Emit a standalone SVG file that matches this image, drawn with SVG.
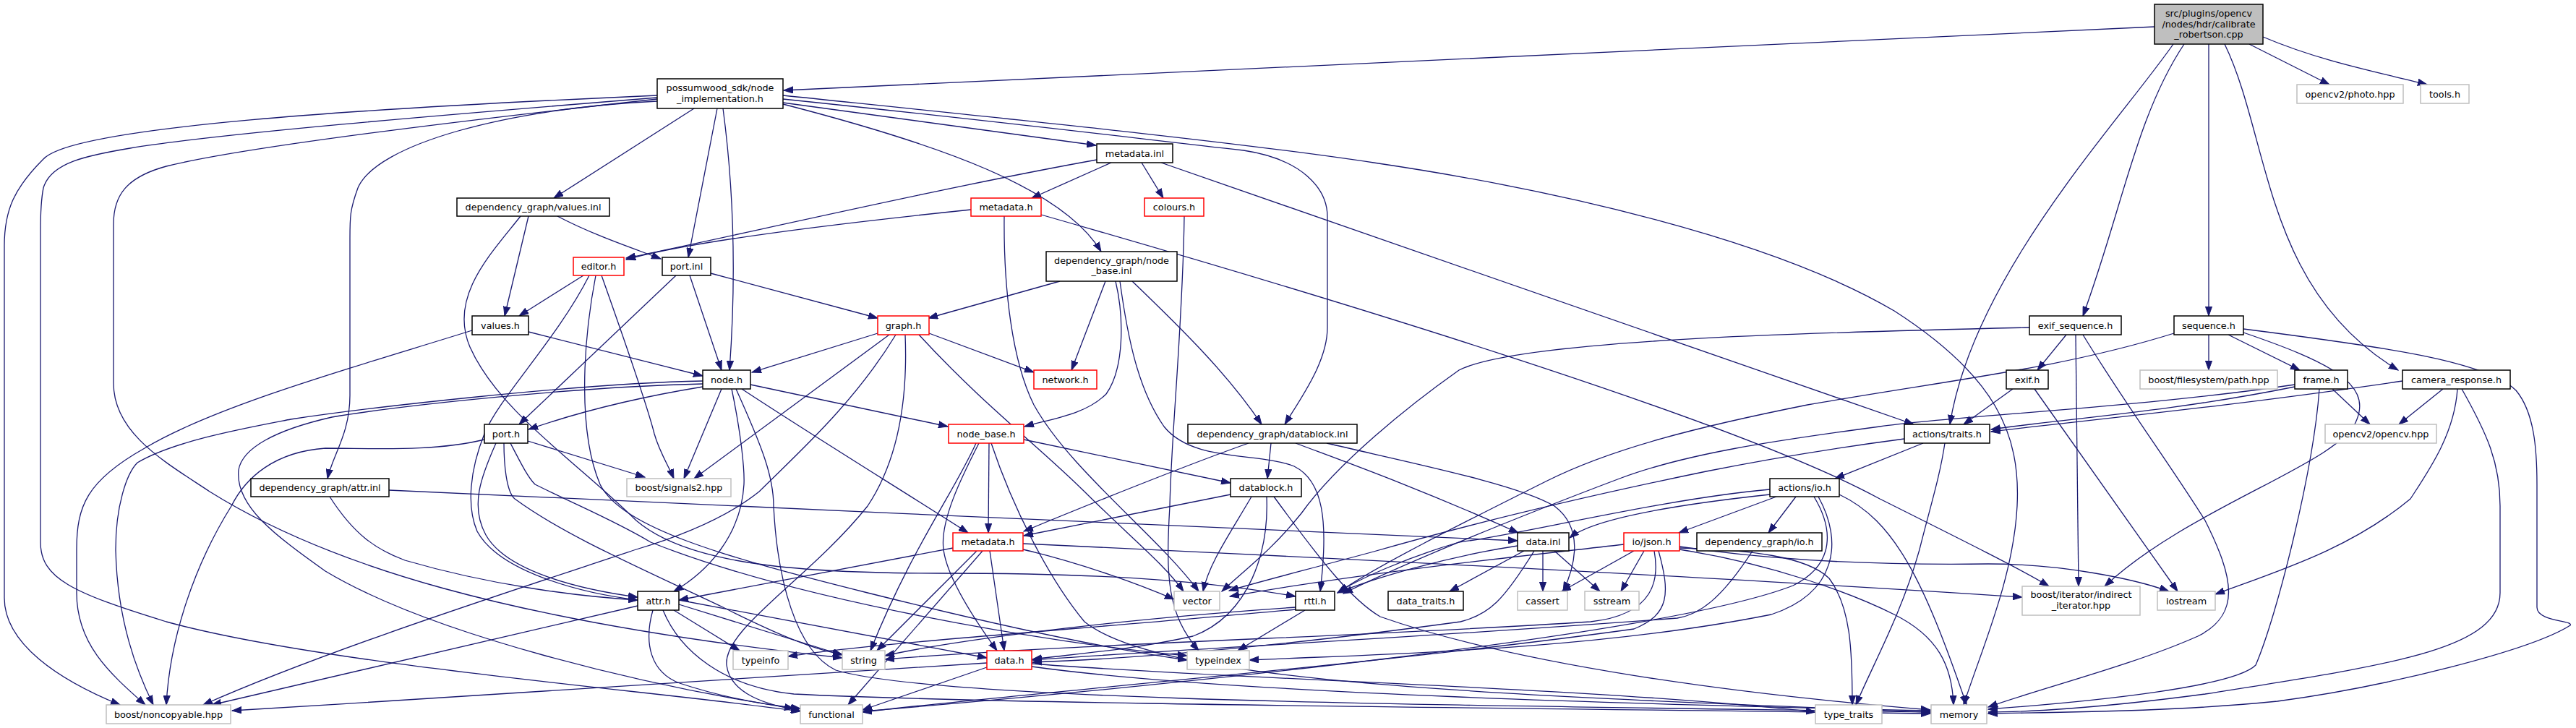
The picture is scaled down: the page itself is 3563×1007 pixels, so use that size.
<svg xmlns="http://www.w3.org/2000/svg" width="3563" height="1007" viewBox="0 0 3563 1007">
<defs>
<marker id="a" markerWidth="14" markerHeight="10" refX="13" refY="5" orient="auto" markerUnits="userSpaceOnUse"><path d="M0,0.4 L13,5 L0,9.6 Z" fill="#191970" stroke="#191970" stroke-width="1"/></marker>
<style>
.e path{fill:none;stroke:#191970;stroke-width:1.3;marker-end:url(#a)}
rect{fill:#fff;stroke-width:1.5}
.b rect{stroke:#000}
.g rect{stroke:#bfbfbf}
.r rect{stroke:#f00}
.root rect{fill:#bfbfbf;stroke:#000}
text{font-family:"DejaVu Sans",sans-serif;font-size:12.8px;text-anchor:middle;fill:#000}
</style>
</defs>
<rect x="0" y="0" width="3563" height="1007" fill="#fff" stroke="none"/>
<g id="edges" class="e">
<path d="M2980,37 L1084,125"/>
<path d="M3111,61 L3222,117"/>
<path d="M3130,51 C3210,85 3290,100 3357,117"/>
<path d="M3006,61 C2930,170 2730,380 2697,587"/>
<path d="M3021,61 C2955,160 2935,290 2881,437"/>
<path d="M3055,61 L3055,437"/>
<path d="M3077,61 C3140,190 3130,400 3317,512"/>
<path d="M909,132 C500,150 100,175 60,220 C20,260 6,290 6,340 L6,827 C6,890 80,940 166,975"/>
<path d="M909,135 C600,160 300,185 180,205 C120,215 70,225 60,260 C56,280 56,300 56,320 L56,750 C56,800 100,820 230,860 C450,920 900,955 1107,984"/>
<path d="M909,137 C700,160 350,200 230,230 C175,245 157,270 157,310 L157,530 C157,600 230,640 290,680 C450,780 700,860 1165,910"/>
<path d="M909,140 C700,150 520,200 495,260 C484,290 484,300 484,330 L484,547 C484,600 460,630 453,662"/>
<path d="M960,150 L766,274"/>
<path d="M992,150 L952,356"/>
<path d="M1000,150 C1020,300 1015,430 1009,512"/>
<path d="M1083,142 L1516,201"/>
<path d="M1083,144 C1300,200 1470,260 1523,348"/>
<path d="M1083,137 C1400,170 1560,190 1720,208 C1800,220 1836,260 1836,300 L1836,453 C1836,500 1800,550 1777,587"/>
<path d="M1083,132 C1400,165 1700,195 1900,225 C2150,262 2450,330 2620,430 C2760,520 2795,600 2790,700 C2785,800 2740,900 2716,975"/>
<path d="M1517,221 C1300,260 1000,330 866,357"/>
<path d="M1537,225 L1427,274"/>
<path d="M1579,225 L1609,274"/>
<path d="M1606,225 L2647,587"/>
<path d="M1343,290 C1150,310 950,335 866,359"/>
<path d="M1389,299 C1388,400 1400,500 1430,560 C1480,650 1600,740 1658,818"/>
<path d="M1440,297 C1800,400 2400,580 2600,690 C2720,750 2800,790 2834,811"/>
<path d="M1638,299 C1636,450 1620,600 1618,700 C1612,800 1615,850 1658,900"/>
<path d="M731,299 L698,437"/>
<path d="M771,299 C820,325 880,345 914,358"/>
<path d="M720,299 C680,350 620,410 650,480 C690,570 800,640 880,720 C950,780 1100,793 1300,793 C1500,793 1650,800 1792,825"/>
<path d="M807,381 L718,437"/>
<path d="M815,381 C770,470 690,550 670,600 C650,650 645,700 660,735 C690,790 800,820 882,830"/>
<path d="M824,381 C805,480 800,600 830,670 C860,730 1000,770 1200,820 C1400,870 1550,900 1642,913"/>
<path d="M832,381 C860,460 895,560 905,600 C912,625 925,645 932,662"/>
<path d="M935,381 L718,587"/>
<path d="M954,381 L998,512"/>
<path d="M983,378 L1214,440"/>
<path d="M1466,389 L1284,440"/>
<path d="M1529,389 L1482,512"/>
<path d="M1543,389 C1555,440 1555,510 1530,545 C1500,575 1450,580 1417,590"/>
<path d="M1549,389 C1560,470 1575,540 1610,590 C1650,640 1740,625 1790,645 C1830,665 1838,720 1826,818"/>
<path d="M1566,389 C1640,460 1700,520 1745,587"/>
<path d="M731,459 L972,520"/>
<path d="M653,457 C500,505 300,560 200,620 C120,665 106,700 106,760 L106,820 C106,890 150,930 201,975"/>
<path d="M1214,461 L1040,515"/>
<path d="M1230,463 L960,662"/>
<path d="M1239,463 C1180,560 1100,630 1050,680 C1000,720 930,745 880,760 C700,820 450,900 281,975"/>
<path d="M1252,463 C1256,560 1240,640 1200,700 C1120,800 1000,870 1005,920 C1010,960 1060,975 1107,983"/>
<path d="M1271,463 C1360,560 1440,620 1500,680 C1560,740 1610,780 1637,818"/>
<path d="M1285,461 L1430,515"/>
<path d="M2858,463 L2818,512"/>
<path d="M2807,453 C2500,460 2100,470 2018,512 C1950,560 1850,640 1800,710 C1760,760 1720,790 1690,818"/>
<path d="M2871,463 L2875,811"/>
<path d="M2881,463 C2940,560 3000,640 3050,720 C3090,800 3100,850 3040,880 C2950,920 2830,950 2750,978"/>
<path d="M3007,461 C2850,510 2700,525 2500,560 C2350,590 2230,620 2140,665 C2020,725 1900,785 1852,819"/>
<path d="M3055,463 L3055,512"/>
<path d="M3082,463 L3181,512"/>
<path d="M3103,460 C3220,500 3280,530 3260,580 C3240,640 3030,700 2911,811"/>
<path d="M3103,455 C3300,480 3440,500 3480,540 C3505,570 3509,620 3509,670 L3509,840 C3509,860 3560,858 3555,865 C3500,900 3300,950 3150,970 C3000,985 2850,985 2750,987"/>
<path d="M2784,538 L2716,587"/>
<path d="M2814,538 L3012,818"/>
<path d="M3174,535 C3000,570 2850,580 2754,594"/>
<path d="M3174,532 C2950,565 2700,575 2600,590 C2450,610 2330,628 2240,662 C2060,730 1920,790 1858,821"/>
<path d="M3323,527 C3100,560 2900,580 2754,597"/>
<path d="M3379,538 L3318,587"/>
<path d="M3399,538 C3395,600 3360,650 3334,690 C3250,760 3150,790 3064,822"/>
<path d="M3405,538 C3440,600 3458,640 3458,700 L3458,820 C3458,900 3300,920 3050,960 C2900,980 2800,985 2750,985"/>
<path d="M3226,538 L3278,587"/>
<path d="M3208,538 C3200,650 3150,850 3120,920 C3090,950 2900,970 2750,981"/>
<path d="M2660,613 L2538,662"/>
<path d="M2690,613 C2683,660 2670,700 2655,760 C2630,850 2590,920 2567,975"/>
<path d="M2634,607 C2520,622 2440,636 2360,652 C2200,685 2050,720 1900,763 C1800,790 1740,805 1700,817"/>
<path d="M1702,684 L1416,741"/>
<path d="M1731,687 C1700,740 1672,780 1664,818"/>
<path d="M1752,687 C1755,760 1730,850 1650,880 C1560,900 1480,905 1428,912"/>
<path d="M1762,687 C1830,780 1870,830 1909,853 C2100,920 2400,960 2670,982"/>
<path d="M1727,613 C1650,640 1500,700 1416,735"/>
<path d="M1758,613 L1753,662"/>
<path d="M1792,613 C1850,635 1950,670 2100,737"/>
<path d="M1835,613 C1950,640 2100,670 2150,700 C2190,730 2180,780 2162,818"/>
<path d="M2448,684 C2300,700 2200,720 2171,744"/>
<path d="M2457,687 L2322,737"/>
<path d="M2484,687 L2446,737"/>
<path d="M2448,677 C2300,690 2100,740 2018,750 C1950,770 1880,800 1850,820"/>
<path d="M670,608 C600,625 520,620 450,620 C380,625 340,660 320,700 C270,780 235,880 230,975"/>
<path d="M686,613 C665,660 650,700 672,740 C700,790 800,815 882,826"/>
<path d="M730,610 L892,660"/>
<path d="M697,613 C697,640 700,680 712,690 C780,740 880,783 1000,840 C1080,880 1130,900 1165,905"/>
<path d="M706,613 C720,640 730,660 740,670 C800,700 850,720 900,750 C1100,830 1450,890 1642,907"/>
<path d="M972,527 C800,530 500,565 402,580 C340,592 240,610 190,640 C175,655 160,700 160,760 C162,860 190,930 212,975"/>
<path d="M972,531 C800,535 560,560 459,577 C380,595 335,620 330,650 C325,700 380,740 450,790 C600,880 900,950 1098,980"/>
<path d="M972,535 C880,550 800,570 731,594"/>
<path d="M998,538 L946,662"/>
<path d="M1012,538 C1025,600 1030,650 1029,670 C1025,740 980,790 932,818"/>
<path d="M1018,538 C1055,620 1070,660 1070,700 C1075,800 1100,900 1156,927 C1300,970 2000,975 2670,985"/>
<path d="M1026,538 C1120,600 1250,680 1339,737"/>
<path d="M1038,532 L1311,590"/>
<path d="M1350,613 C1320,680 1260,760 1204,900"/>
<path d="M1354,613 C1330,660 1300,720 1305,760 C1310,800 1350,860 1379,900"/>
<path d="M1368,613 L1367,737"/>
<path d="M1371,613 C1400,700 1450,800 1500,860 C1600,940 2000,960 2670,985"/>
<path d="M1416,608 L1702,668"/>
<path d="M456,687 C490,740 520,760 560,775 C680,810 800,825 882,830"/>
<path d="M538,678 C1000,700 1700,730 2099,748"/>
<path d="M882,838 L293,975"/>
<path d="M903,844 C890,890 900,930 940,945 C1000,965 1060,975 1107,980"/>
<path d="M932,844 L1023,900"/>
<path d="M939,836 L1165,906"/>
<path d="M939,830 L1365,910"/>
<path d="M917,844 C940,900 1000,950 1098,960 C1400,975 2200,980 2670,987"/>
<path d="M1318,758 L939,830"/>
<path d="M1351,762 L1213,900"/>
<path d="M1359,762 L1173,975"/>
<path d="M1369,762 L1389,900"/>
<path d="M1415,760 C1500,780 1580,810 1624,829"/>
<path d="M1415,752 C1800,770 2400,800 2797,826"/>
<path d="M1365,917 C1100,935 700,960 321,983"/>
<path d="M1365,923 L1193,982"/>
<path d="M1427,922 C1700,960 2300,975 2670,983"/>
<path d="M1427,918 C1700,940 2200,950 2511,985"/>
<path d="M1792,840 C1500,860 1300,890 1224,907"/>
<path d="M1792,843 C1500,870 1200,890 1090,908"/>
<path d="M1805,844 L1712,900"/>
<path d="M2099,755 C2000,770 1900,800 1850,820"/>
<path d="M2108,762 L2005,818"/>
<path d="M2134,762 L2134,818"/>
<path d="M2150,762 L2213,818"/>
<path d="M2122,762 C2080,830 2060,850 2020,860 C1800,890 1600,910 1428,916"/>
<path d="M2260,762 L2160,818"/>
<path d="M2274,762 L2242,818"/>
<path d="M2246,753 C2100,770 1900,790 1701,825"/>
<path d="M2323,758 C2420,760 2500,770 2530,800 C2560,840 2562,900 2562,975"/>
<path d="M2323,756 C2450,775 2600,782 2750,780 C2850,780 2950,800 3000,818"/>
<path d="M2323,760 C2450,780 2560,820 2620,850 C2680,880 2700,920 2702,975"/>
<path d="M2288,762 C2295,800 2290,850 2200,860 C1900,880 1500,890 1224,912"/>
<path d="M2294,762 C2310,820 2310,850 2260,870 C1900,920 1400,960 1193,985"/>
<path d="M2424,762 C2380,830 2350,850 2320,855 C2000,880 1600,900 1428,913"/>
<path d="M2509,687 C2535,730 2540,780 2480,810 C2300,880 1600,950 1193,984"/>
<path d="M2515,687 C2550,750 2540,820 2450,850 C2200,900 1900,905 1728,913"/>
<path d="M2544,684 C2620,720 2660,800 2720,975"/>
</g>
<g id="n0" class="root"><rect x="2980" y="6" width="150" height="55"/><text x="3055" y="23">src/plugins/opencv</text><text x="3055" y="37.5">/nodes/hdr/calibrate</text><text x="3055" y="52">_robertson.cpp</text></g>
<g id="n1" class="b"><rect x="909" y="109" width="174" height="41"/><text x="996" y="126.3">possumwood_sdk/node</text><text x="996" y="141.3">_implementation.h</text></g>
<g id="n2" class="g"><rect x="3177" y="117" width="147" height="26"/><text x="3250.5" y="134.6">opencv2/photo.hpp</text></g>
<g id="n3" class="g"><rect x="3348" y="117" width="67" height="26"/><text x="3381.5" y="134.6">tools.h</text></g>
<g id="n4" class="b"><rect x="1517" y="199" width="105" height="26"/><text x="1569.5" y="216.6">metadata.inl</text></g>
<g id="n5" class="b"><rect x="632" y="274" width="211" height="25"/><text x="737.5" y="291.3">dependency_graph/values.inl</text></g>
<g id="n6" class="r"><rect x="1343" y="274" width="97" height="25"/><text x="1391.5" y="291.3">metadata.h</text></g>
<g id="n7" class="r"><rect x="1583" y="274" width="82" height="25"/><text x="1624" y="291.3">colours.h</text></g>
<g id="n8" class="r"><rect x="793" y="356" width="70" height="25"/><text x="828" y="373.3">editor.h</text></g>
<g id="n9" class="b"><rect x="916" y="356" width="67" height="25"/><text x="949.5" y="373.3">port.inl</text></g>
<g id="n10" class="b"><rect x="1447" y="348" width="181" height="41"/><text x="1537.5" y="365.3">dependency_graph/node</text><text x="1537.5" y="379">_base.inl</text></g>
<g id="n11" class="b"><rect x="653" y="437" width="78" height="26"/><text x="692" y="454.6">values.h</text></g>
<g id="n12" class="r"><rect x="1214" y="437" width="71" height="26"/><text x="1249.5" y="454.6">graph.h</text></g>
<g id="n13" class="b"><rect x="2807" y="437" width="127" height="26"/><text x="2870.5" y="454.6">exif_sequence.h</text></g>
<g id="n14" class="b"><rect x="3007" y="437" width="96" height="26"/><text x="3055" y="454.6">sequence.h</text></g>
<g id="n15" class="b"><rect x="972" y="512" width="66" height="26"/><text x="1005" y="529.6">node.h</text></g>
<g id="n16" class="r"><rect x="1430" y="512" width="87" height="26"/><text x="1473.5" y="529.6">network.h</text></g>
<g id="n17" class="b"><rect x="2775" y="512" width="58" height="26"/><text x="2804" y="529.6">exif.h</text></g>
<g id="n18" class="g"><rect x="2960" y="512" width="190" height="26"/><text x="3055" y="529.6">boost/filesystem/path.hpp</text></g>
<g id="n19" class="b"><rect x="3174" y="512" width="73" height="26"/><text x="3210.5" y="529.6">frame.h</text></g>
<g id="n20" class="b"><rect x="3323" y="512" width="149" height="26"/><text x="3397.5" y="529.6">camera_response.h</text></g>
<g id="n21" class="b"><rect x="670" y="587" width="60" height="26"/><text x="700" y="604.6">port.h</text></g>
<g id="n22" class="r"><rect x="1312" y="587" width="104" height="26"/><text x="1364" y="604.6">node_base.h</text></g>
<g id="n23" class="b"><rect x="1643" y="587" width="234" height="26"/><text x="1760" y="604.6">dependency_graph/datablock.inl</text></g>
<g id="n24" class="b"><rect x="2634" y="587" width="118" height="26"/><text x="2693" y="604.6">actions/traits.h</text></g>
<g id="n25" class="g"><rect x="3216" y="587" width="154" height="26"/><text x="3293" y="604.6">opencv2/opencv.hpp</text></g>
<g id="n26" class="b"><rect x="347" y="662" width="191" height="25"/><text x="442.5" y="679.3">dependency_graph/attr.inl</text></g>
<g id="n27" class="g"><rect x="867" y="662" width="144" height="25"/><text x="939" y="679.3">boost/signals2.hpp</text></g>
<g id="n28" class="b"><rect x="1702" y="662" width="98" height="25"/><text x="1751" y="679.3">datablock.h</text></g>
<g id="n29" class="b"><rect x="2448" y="662" width="96" height="25"/><text x="2496" y="679.3">actions/io.h</text></g>
<g id="n30" class="r"><rect x="1318" y="737" width="97" height="25"/><text x="1366.5" y="754.3">metadata.h</text></g>
<g id="n31" class="b"><rect x="2099" y="737" width="71" height="25"/><text x="2134.5" y="754.3">data.inl</text></g>
<g id="n32" class="r"><rect x="2246" y="737" width="77" height="25"/><text x="2284.5" y="754.3">io/json.h</text></g>
<g id="n33" class="b"><rect x="2347" y="737" width="173" height="25"/><text x="2433.5" y="754.3">dependency_graph/io.h</text></g>
<g id="n34" class="b"><rect x="882" y="818" width="57" height="26"/><text x="910.5" y="835.6">attr.h</text></g>
<g id="n35" class="g"><rect x="1624" y="818" width="63" height="26"/><text x="1655.5" y="835.6">vector</text></g>
<g id="n36" class="b"><rect x="1792" y="818" width="54" height="26"/><text x="1819" y="835.6">rtti.h</text></g>
<g id="n37" class="b"><rect x="1920" y="818" width="104" height="26"/><text x="1972" y="835.6">data_traits.h</text></g>
<g id="n38" class="g"><rect x="2099" y="818" width="69" height="26"/><text x="2133.5" y="835.6">cassert</text></g>
<g id="n39" class="g"><rect x="2192" y="818" width="75" height="26"/><text x="2229.5" y="835.6">sstream</text></g>
<g id="n40" class="g"><rect x="2797" y="811" width="163" height="40"/><text x="2878.5" y="827">boost/iterator/indirect</text><text x="2878.5" y="842.3">_iterator.hpp</text></g>
<g id="n41" class="g"><rect x="2984" y="818" width="80" height="26"/><text x="3024" y="835.6">iostream</text></g>
<g id="n42" class="g"><rect x="1014" y="900" width="76" height="26"/><text x="1052" y="917.6">typeinfo</text></g>
<g id="n43" class="g"><rect x="1165" y="900" width="59" height="26"/><text x="1194.5" y="917.6">string</text></g>
<g id="n44" class="r"><rect x="1365" y="900" width="62" height="26"/><text x="1396" y="917.6">data.h</text></g>
<g id="n45" class="g"><rect x="1642" y="900" width="86" height="26"/><text x="1685" y="917.6">typeindex</text></g>
<g id="n46" class="g"><rect x="147" y="975" width="172" height="26"/><text x="233" y="992.6">boost/noncopyable.hpp</text></g>
<g id="n47" class="g"><rect x="1107" y="975" width="86" height="26"/><text x="1150" y="992.6">functional</text></g>
<g id="n48" class="g"><rect x="2511" y="975" width="92" height="26"/><text x="2557" y="992.6">type_traits</text></g>
<g id="n49" class="g"><rect x="2671" y="975" width="77" height="26"/><text x="2709.5" y="992.6">memory</text></g>
</svg>
